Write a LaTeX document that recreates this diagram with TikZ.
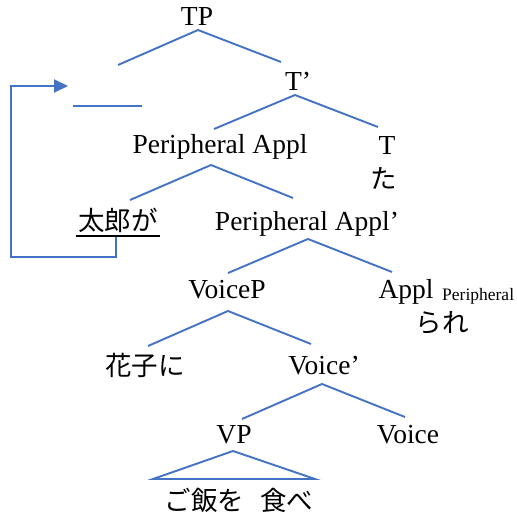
\documentclass[tikz,border=0pt]{standalone}
\usepackage{fontspec}
\setmainfont{Liberation Serif}
\newfontfamily\jp{Noto Sans CJK JP}
\usetikzlibrary{arrows.meta}
\definecolor{branch}{RGB}{68,114,196}
\begin{document}
\begin{tikzpicture}[x=1pt,y=-1pt,
  lbl/.style={inner sep=0pt,anchor=base,font=\fontsize{27.5}{30}\selectfont},
  jlbl/.style={inner sep=0pt,anchor=center,font=\fontsize{26.5}{30}\selectfont\jp},
  edge/.style={draw=branch,line width=1.9pt},
  movearrow/.style={draw=branch,line width=1.9pt,-{Triangle[length=14pt,width=13pt]}}]
\useasboundingbox (0,0) rectangle (517,514);

% labels
\node[lbl] (TP) at (197,25) {TP};
\node[lbl] (Tbar) at (298,90) {T’};
\node[lbl] (PAppl) at (220,153) {Peripheral Appl};
\node[lbl] (T) at (387,154) {T};
\node[jlbl] (ta) at (384,178) {た};
\node[jlbl] (taro) at (118,220) {太郎が};
\node[lbl] (PApplbar) at (307,230) {Peripheral Appl’};
\node[lbl] (VoiceP) at (227,298) {VoiceP};
\node[lbl] (Appl) at (406,298) {Appl};
\node[inner sep=0pt,anchor=base west,font=\fontsize{17.5}{20}\selectfont] (Applsub) at (442,300) {Peripheral};
\node[jlbl] (rare) at (442,323) {られ};
\node[jlbl] (hanako) at (145,365) {花子に};
\node[lbl] (Voicebar) at (324,374) {Voice’};
\node[lbl] (VP) at (234,443) {VP};
\node[lbl] (Voice) at (408,443) {Voice};
\node[jlbl] (gohan) at (239,500) {ご飯を\hspace{0.6em}食べ};

% branch points
\coordinate (tpA) at (198,30);   \coordinate (tpL) at (118,65);   \coordinate (tpR) at (281,62);
\coordinate (specL) at (73,106); \coordinate (specR) at (142,106);
\coordinate (tbA) at (295,95);   \coordinate (tbL) at (214,129);  \coordinate (tbR) at (378,127);
\coordinate (paA) at (211,165);  \coordinate (paL) at (130,200);  \coordinate (paR) at (293,198);
\coordinate (pbA) at (308,239);  \coordinate (pbL) at (228,273);  \coordinate (pbR) at (392,272);
\coordinate (vpA) at (228,311);  \coordinate (vpL) at (148,346);  \coordinate (vpR) at (311,344);
\coordinate (vbA) at (322,384);  \coordinate (vbL) at (242,419);  \coordinate (vbR) at (405,417);
\coordinate (vA) at (233,451);   \coordinate (vL) at (153,479);   \coordinate (vR) at (315,479);

% tree branches
\draw[edge] (tpL) -- (tpA) -- (tpR);
\draw[edge] (specL) -- (specR);
\draw[edge] (tbL) -- (tbA) -- (tbR);
\draw[edge] (paL) -- (paA) -- (paR);
\draw[edge] (pbL) -- (pbA) -- (pbR);
\draw[edge] (vpL) -- (vpA) -- (vpR);
\draw[edge] (vbL) -- (vbA) -- (vbR);
\draw[edge,line join=miter] (vA) -- (vL) -- (vR) -- cycle;

% underline of the moved phrase
\draw[line width=1.4pt] (76,236) -- (160,236);

% movement arrow
\coordinate (mvStart) at (116,237);
\coordinate (mvEnd) at (68,86);
\draw[movearrow] (mvStart) -- (116,257) -- (11,257) -- (11,86) -- (mvEnd);
\end{tikzpicture}
\end{document}
